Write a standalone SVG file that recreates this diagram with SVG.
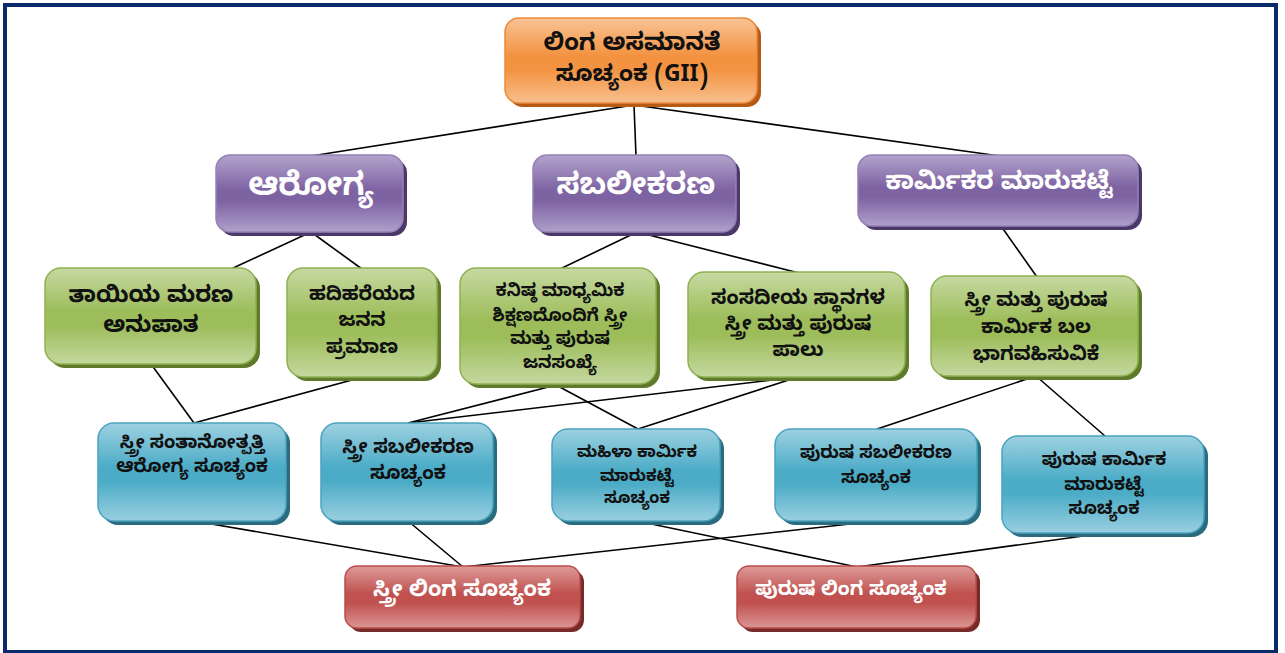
<svg xmlns="http://www.w3.org/2000/svg" width="1285" height="653" viewBox="0 0 1285 653">
<style>
text{font-family:"Noto Sans Kannada","Noto Sans","Noto Sans CJK SC",sans-serif;font-weight:bold;text-anchor:middle;dominant-baseline:central}
.dk{fill:#111}
.wt{fill:#fff}
.ln{stroke:#000;stroke-width:1.6;fill:none}
.or{fill:url(#gO);stroke:#eb8a3c;stroke-width:1.5}
.pu{fill:url(#gP);stroke:#9581b6;stroke-width:1.5}
.gr{fill:url(#gG);stroke:#8fb150;stroke-width:1.5}
.bl{fill:url(#gB);stroke:#4aa3bf;stroke-width:1.5}
.rd{fill:url(#gR);stroke:#b94d4a;stroke-width:1.5}
.sO{fill:#b65a14}.sP{fill:#4b3868}.sG{fill:#5e7a2a}.sB{fill:#2b6b7e}.sR{fill:#772a28}
</style>
<defs>
<linearGradient id="gO" x1="0" y1="0" x2="0" y2="1"><stop offset="0" stop-color="#f9c496"/><stop offset="0.45" stop-color="#f39240"/><stop offset="0.6" stop-color="#f39240"/><stop offset="1" stop-color="#f8c08e"/></linearGradient>
<linearGradient id="gP" x1="0" y1="0" x2="0" y2="1"><stop offset="0" stop-color="#b3a3cc"/><stop offset="0.45" stop-color="#7e63a3"/><stop offset="0.6" stop-color="#7e63a3"/><stop offset="1" stop-color="#b0a0ca"/></linearGradient>
<linearGradient id="gG" x1="0" y1="0" x2="0" y2="1"><stop offset="0" stop-color="#c6d9a2"/><stop offset="0.45" stop-color="#9dbd5a"/><stop offset="0.6" stop-color="#9dbd5a"/><stop offset="1" stop-color="#c4d89f"/></linearGradient>
<linearGradient id="gB" x1="0" y1="0" x2="0" y2="1"><stop offset="0" stop-color="#9ed1e1"/><stop offset="0.45" stop-color="#4cacc7"/><stop offset="0.6" stop-color="#4cacc7"/><stop offset="1" stop-color="#9acfe0"/></linearGradient>
<linearGradient id="gR" x1="0" y1="0" x2="0" y2="1"><stop offset="0" stop-color="#dd9b9a"/><stop offset="0.45" stop-color="#c0514e"/><stop offset="0.6" stop-color="#c0514e"/><stop offset="1" stop-color="#da9695"/></linearGradient>
</defs>
<rect x="0" y="0" width="1285" height="653" fill="#fff"/>
<rect x="5" y="5" width="1271" height="647" fill="none" stroke="#0b2a6b" stroke-width="4"/>
<g id="connectors">
<line class="ln" x1="634" y1="105" x2="311" y2="156"/>
<line class="ln" x1="634" y1="105" x2="636" y2="156"/>
<line class="ln" x1="634" y1="105" x2="1000" y2="156"/>
<line class="ln" x1="311" y1="232" x2="231" y2="269"/>
<line class="ln" x1="311" y1="232" x2="362" y2="269"/>
<line class="ln" x1="637" y1="232" x2="560" y2="269"/>
<line class="ln" x1="637" y1="232" x2="799" y2="273"/>
<line class="ln" x1="1001" y1="226" x2="1037" y2="277"/>
<line class="ln" x1="151" y1="364" x2="194" y2="423"/>
<line class="ln" x1="363" y1="377" x2="194" y2="423"/>
<line class="ln" x1="556" y1="385" x2="408" y2="423"/>
<line class="ln" x1="556" y1="385" x2="638" y2="429"/>
<line class="ln" x1="798" y1="377" x2="408" y2="423"/>
<line class="ln" x1="798" y1="377" x2="638" y2="429"/>
<line class="ln" x1="1036" y1="376" x2="877" y2="429"/>
<line class="ln" x1="1036" y1="376" x2="1105" y2="436"/>
<line class="ln" x1="194" y1="521" x2="463" y2="567"/>
<line class="ln" x1="408" y1="521" x2="463" y2="567"/>
<line class="ln" x1="877" y1="521" x2="463" y2="567"/>
<line class="ln" x1="637" y1="521" x2="857" y2="567"/>
<line class="ln" x1="1105" y1="533" x2="857" y2="567"/>
</g>
<g id="n-gii"><rect class="sO" x="509" y="22" width="252" height="85" rx="14"/><rect class="or" x="505" y="18" width="252" height="85" rx="14"/><text class="dk" x="632" y="47" font-size="24">ಲಿಂಗ ಅಸಮಾನತೆ</text><text class="dk" x="632" y="77" font-size="23">ಸೂಚ್ಯಂಕ (GII)</text></g>
<g id="n-arogya"><rect class="sP" x="220" y="159" width="187" height="77" rx="14"/><rect class="pu" x="216" y="155" width="187" height="77" rx="14"/><text class="wt" x="311" y="190" font-size="32">ಆರೋಗ್ಯ</text></g>
<g id="n-sabali"><rect class="sP" x="537" y="159" width="203" height="77" rx="14"/><rect class="pu" x="533" y="155" width="203" height="77" rx="14"/><text class="wt" x="636" y="190" font-size="30">ಸಬಲೀಕರಣ</text></g>
<g id="n-karmika"><rect class="sP" x="862" y="159" width="280" height="71" rx="14"/><rect class="pu" x="858" y="155" width="280" height="71" rx="14"/><text class="wt" x="999" y="186" font-size="25">ಕಾರ್ಮಿಕರ ಮಾರುಕಟ್ಟೆ</text></g>
<g id="n-tayi"><rect class="sG" x="49" y="272" width="211" height="96" rx="16"/><rect class="gr" x="45" y="268" width="211" height="96" rx="16"/><text class="dk" x="151" y="298" font-size="23">ತಾಯಿಯ ಮರಣ</text><text class="dk" x="151" y="328" font-size="23">ಅನುಪಾತ</text></g>
<g id="n-hadi"><rect class="sG" x="291" y="272" width="150" height="109" rx="16"/><rect class="gr" x="287" y="268" width="150" height="109" rx="16"/><text class="dk" x="362" y="297" font-size="19.5">ಹದಿಹರೆಯದ</text><text class="dk" x="362" y="323" font-size="19.5">ಜನನ</text><text class="dk" x="362" y="350" font-size="19.5">ಪ್ರಮಾಣ</text></g>
<g id="n-kanishta"><rect class="sG" x="464" y="272" width="196" height="116" rx="16"/><rect class="gr" x="460" y="268" width="196" height="116" rx="16"/><text class="dk" x="560" y="293" font-size="17.5">ಕನಿಷ್ಠ ಮಾಧ್ಯಮಿಕ</text><text class="dk" x="560" y="318" font-size="17.5">ಶಿಕ್ಷಣದೊಂದಿಗೆ ಸ್ತ್ರೀ</text><text class="dk" x="560" y="341" font-size="17.5">ಮತ್ತು ಪುರುಷ</text><text class="dk" x="560" y="365" font-size="17.5">ಜನಸಂಖ್ಯೆ</text></g>
<g id="n-samsadiya"><rect class="sG" x="692" y="276" width="217" height="105" rx="16"/><rect class="gr" x="688" y="272" width="217" height="105" rx="16"/><text class="dk" x="798" y="301" font-size="20">ಸಂಸದೀಯ ಸ್ಥಾನಗಳ</text><text class="dk" x="798" y="327" font-size="20">ಸ್ತ್ರೀ ಮತ್ತು ಪುರುಷ</text><text class="dk" x="798" y="353" font-size="20">ಪಾಲು</text></g>
<g id="n-bhaga"><rect class="sG" x="935" y="280" width="207" height="100" rx="16"/><rect class="gr" x="931" y="276" width="207" height="100" rx="16"/><text class="dk" x="1036" y="303" font-size="19.5">ಸ್ತ್ರೀ ಮತ್ತು ಪುರುಷ</text><text class="dk" x="1036" y="330" font-size="19.5">ಕಾರ್ಮಿಕ ಬಲ</text><text class="dk" x="1036" y="357" font-size="19.5">ಭಾಗವಹಿಸುವಿಕೆ</text></g>
<g id="n-santana"><rect class="sB" x="102" y="427" width="188" height="98" rx="16"/><rect class="bl" x="98" y="423" width="188" height="98" rx="16"/><text class="dk" x="192" y="445" font-size="18.5">ಸ್ತ್ರೀ ಸಂತಾನೋತ್ಪತ್ತಿ</text><text class="dk" x="192" y="469" font-size="18.5">ಆರೋಗ್ಯ ಸೂಚ್ಯಂಕ</text></g>
<g id="n-stri-sab"><rect class="sB" x="325" y="427" width="172" height="98" rx="16"/><rect class="bl" x="321" y="423" width="172" height="98" rx="16"/><text class="dk" x="408" y="450" font-size="19">ಸ್ತ್ರೀ ಸಬಲೀಕರಣ</text><text class="dk" x="408" y="476" font-size="19">ಸೂಚ್ಯಂಕ</text></g>
<g id="n-mahila"><rect class="sB" x="556" y="433" width="168" height="92" rx="16"/><rect class="bl" x="552" y="429" width="168" height="92" rx="16"/><text class="dk" x="637" y="455" font-size="16.5">ಮಹಿಳಾ ಕಾರ್ಮಿಕ</text><text class="dk" x="637" y="479" font-size="16.5">ಮಾರುಕಟ್ಟೆ</text><text class="dk" x="637" y="501" font-size="16.5">ಸೂಚ್ಯಂಕ</text></g>
<g id="n-purusha-sab"><rect class="sB" x="779" y="433" width="202" height="92" rx="16"/><rect class="bl" x="775" y="429" width="202" height="92" rx="16"/><text class="dk" x="876" y="455" font-size="17.5">ಪುರುಷ ಸಬಲೀಕರಣ</text><text class="dk" x="876" y="480" font-size="17.5">ಸೂಚ್ಯಂಕ</text></g>
<g id="n-purusha-kar"><rect class="sB" x="1006" y="440" width="202" height="97" rx="16"/><rect class="bl" x="1002" y="436" width="202" height="97" rx="16"/><text class="dk" x="1104" y="463" font-size="17.8">ಪುರುಷ ಕಾರ್ಮಿಕ</text><text class="dk" x="1104" y="488" font-size="17.8">ಮಾರುಕಟ್ಟೆ</text><text class="dk" x="1104" y="512" font-size="17.8">ಸೂಚ್ಯಂಕ</text></g>
<g id="n-stri-linga"><rect class="sR" x="349" y="570" width="235" height="62" rx="12"/><rect class="rd" x="345" y="566" width="235" height="62" rx="12"/><text class="wt" x="462" y="593" font-size="22">ಸ್ತ್ರೀ ಲಿಂಗ ಸೂಚ್ಯಂಕ</text></g>
<g id="n-purusha-linga"><rect class="sR" x="741" y="570" width="239" height="62" rx="12"/><rect class="rd" x="737" y="566" width="239" height="62" rx="12"/><text class="wt" x="851" y="592" font-size="19.5">ಪುರುಷ ಲಿಂಗ ಸೂಚ್ಯಂಕ</text></g>
</svg>
